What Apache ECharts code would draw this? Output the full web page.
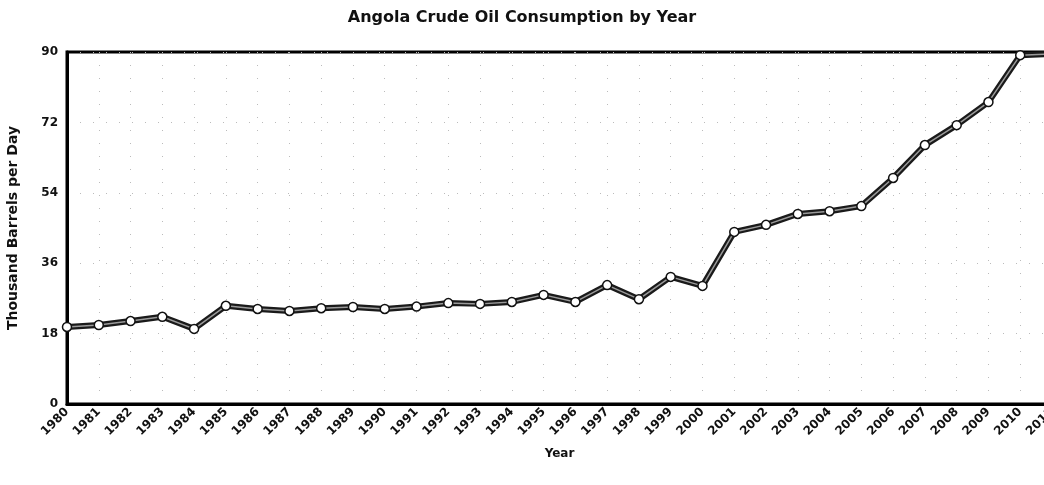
<!DOCTYPE html>
<html>
<head>
<meta charset="utf-8">
<script src="https://cdn.jsdelivr.net/npm/echarts@6/dist/echarts.min.js"></script>
<style>
  html, body { margin: 0; padding: 0; background: #fff; }
  #chart { width: 1044px; height: 485px; }
</style>
</head>
<body>
<div id="chart"></div>
<script>
// years on the x axis
var years = ['1980','1981','1982','1983','1984','1985','1986','1987','1988','1989',
             '1990','1991','1992','1993','1994','1995','1996','1997','1998','1999',
             '2000','2001','2002','2003','2004','2005','2006','2007','2008','2009',
             '2010','2011'];
// thousand barrels per day
var consumption = [19.7, 20.2, 21.2, 22.3, 19.2, 25.1, 24.3, 23.8, 24.5, 24.8,
                   24.3, 24.9, 25.8, 25.6, 26.1, 27.9, 26.1, 30.4, 26.8, 32.5,
                   30.2, 44.0, 45.8, 48.6, 49.3, 50.6, 57.8, 66.2, 71.3, 77.2,
                   89.2, 89.5];
var yTicks = [0, 18, 36, 54, 72, 90];

var myChart = echarts.init(document.getElementById('chart'));

var option = {
    backgroundColor: '#fff',
    animation: false,
    title: {
        text: 'Angola Crude Oil Consumption by Year',
        left: 'center',
        top: 5,
        textStyle: {
            fontFamily: 'DejaVu Sans',
            fontSize: 16,
            fontWeight: 'bold',
            color: '#111'
        }
    },
    grid: {
        left: 67,
        top: 52,
        right: -8,
        bottom: 81,
        outerBoundsMode: 'none',
        show: true,
        borderColor: '#000',
        borderWidth: 3
    },
    xAxis: {
        type: 'category',
        data: years,
        boundaryGap: false,
        name: 'Year',
        nameLocation: 'middle',
        nameGap: 44,
        nameTextStyle: {
            fontFamily: 'DejaVu Sans',
            fontSize: 12,
            fontWeight: 'bold',
            color: '#111'
        },
        axisLine: { lineStyle: { color: '#000', width: 3 } },
        axisTick: { show: false },
        axisLabel: {
            rotate: 45,
            interval: 0,
            margin: 6,
            fontFamily: 'DejaVu Sans',
            fontSize: 12,
            fontWeight: 'bold',
            color: '#111'
        },
        splitLine: {
            show: true,
            lineStyle: { color: '#bbb', type: [1, 12], width: 1 }
        }
    },
    yAxis: {
        type: 'value',
        min: yTicks[0],
        max: yTicks[yTicks.length - 1],
        interval: 18,
        name: 'Thousand Barrels per Day',
        nameLocation: 'middle',
        nameGap: 47,
        nameTextStyle: {
            fontFamily: 'DejaVu Sans',
            fontSize: 14,
            fontWeight: 'bold',
            color: '#111'
        },
        axisLine: { show: true, lineStyle: { color: '#000', width: 3 } },
        axisTick: { show: false },
        axisLabel: {
            margin: 9,
            fontFamily: 'DejaVu Sans',
            fontSize: 12,
            fontWeight: 'bold',
            color: '#111'
        },
        splitLine: {
            show: true,
            lineStyle: { color: '#bbb', type: [1, 12], width: 1 }
        }
    },
    series: [
        {
            name: 'outline',
            type: 'line',
            data: consumption,
            symbol: 'none',
            lineStyle: { color: '#1a1a1a', width: 6 },
            z: 2
        },
        {
            name: 'Consumption',
            type: 'line',
            data: consumption,
            symbol: 'circle',
            symbolSize: 9,
            itemStyle: { color: '#fff', borderColor: '#111', borderWidth: 1.5 },
            lineStyle: { color: '#9a9a9a', width: 1.5 },
            z: 3
        }
    ]
};

myChart.setOption(option);
window.addEventListener('resize', function () {
    myChart.resize();
});
</script>
</body>
</html>
